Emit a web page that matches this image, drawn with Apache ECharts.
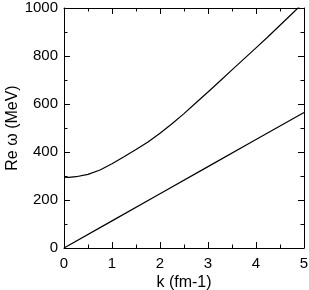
<!DOCTYPE html>
<html><head><meta charset="utf-8">
<script src="https://cdn.jsdelivr.net/npm/echarts@6/dist/echarts.min.js"></script>
<style>html,body{margin:0;padding:0;background:#fff}#c{width:309px;height:290px}</style>
</head><body><div id="c"></div>
<script>
const kUpper = [0, 0.1, 0.25, 0.5, 0.75, 1.0, 1.25, 1.5, 1.75, 2.0, 2.25, 2.5, 2.75, 3.0, 3.25, 3.5, 3.75, 4.0, 4.25, 4.5, 4.75, 5.0];
const omegaUpper = [295, 294, 297, 307, 325, 351, 380, 410, 442, 478, 518, 560, 605, 650, 696, 742, 788, 834, 880, 928, 976, 1024];
const kLower = [0, 1, 2, 3, 4, 5];
const omegaLower = [0, 113, 226, 339, 452, 565];
const xTicks = [0, 1, 2, 3, 4, 5];
const yTicks = [0, 200, 400, 600, 800, 1000];

const font = 'Liberation Sans, Arial, sans-serif';
const zip = (a, b) => a.map((v, i) => [v, b[i]]);
const lineStyle = {color: '#000', width: 1};
function ax(extra) {
  return Object.assign({
    type: 'value', min: 0,
    axisLine: {show: true, onZero: false, lineStyle: lineStyle},
    axisTick: {show: true, inside: true, length: 6, lineStyle: lineStyle},
    minorTick: {show: true, splitNumber: 2, length: 3.5, lineStyle: lineStyle},
    splitLine: {show: false},
    axisLabel: {show: true, color: '#000', fontFamily: font, fontSize: 15}
  }, extra);
}
const chart = echarts.init(document.getElementById('c'), null, {renderer: 'canvas'});
chart.setOption({
  animation: false,
  grid: {left: 64, right: 5, top: 8, bottom: 42, containLabel: false, outerBoundsMode: 'none'},
  xAxis: [
    ax({max: xTicks[xTicks.length-1], interval: 1, position: 'bottom',
        name: 'k (fm-1)', nameLocation: 'middle', nameGap: 27, nameMoveOverlap: false,
        nameTextStyle: {color: '#000', fontFamily: font, fontSize: 16},
        axisLabel: {color: '#000', fontFamily: font, fontSize: 15, margin: 8, formatter: v => String(v)}}),
    ax({max: xTicks[xTicks.length-1], interval: 1, position: 'top', axisLabel: {show: false}})
  ],
  yAxis: [
    ax({max: yTicks[yTicks.length-1], interval: 200, position: 'left',
        name: 'Re ω (MeV)', nameLocation: 'middle', nameGap: 43, nameMoveOverlap: false,
        nameTextStyle: {color: '#000', fontFamily: font, fontSize: 16},
        axisLabel: {color: '#000', fontFamily: font, fontSize: 15, margin: 6, formatter: v => String(v)}}),
    ax({max: yTicks[yTicks.length-1], interval: 200, position: 'right', axisLabel: {show: false}})
  ],
  series: [
    {type: 'line', data: zip(kUpper, omegaUpper), smooth: false, showSymbol: false, lineStyle: {color: '#000', width: 1.2}, clip: true},
    {type: 'line', data: zip(kLower, omegaLower), showSymbol: false, lineStyle: {color: '#000', width: 1.2}, clip: true}
  ]
});
</script></body></html>
